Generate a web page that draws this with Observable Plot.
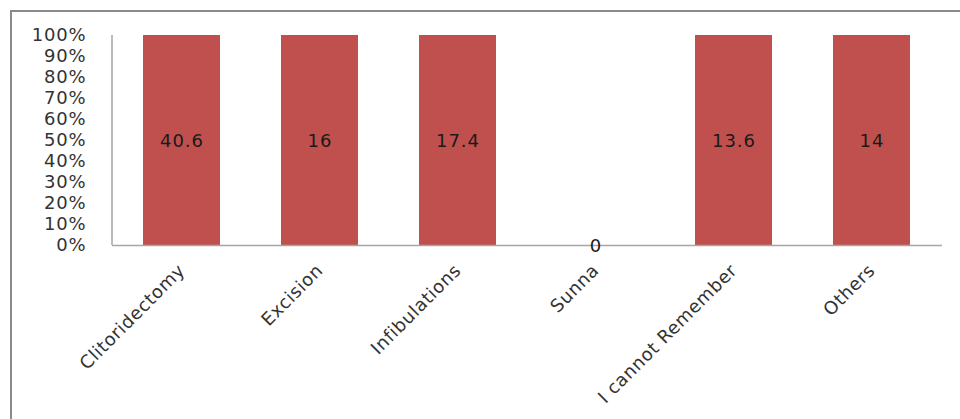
<!DOCTYPE html>
<html>
<head>
<meta charset="utf-8">
<script src="https://cdn.jsdelivr.net/npm/d3@7"></script>
<script src="https://cdn.jsdelivr.net/npm/@observablehq/plot@0.6"></script>
<style>
  html, body { margin: 0; padding: 0; background: #fff; overflow: hidden; }
  #wrap { position: relative; width: 960px; height: 419px; }
  #border { position: absolute; left: 10px; top: 10px; width: 960px; height: 420px; border: 2px solid #8a8a8a; box-sizing: border-box; }
  #chart { position: absolute; left: 0; top: 0; }
  g[aria-label="y-axis tick label"] text { letter-spacing: 0.8px; }
  g[aria-label="x-axis tick label"] text { letter-spacing: 0.6px; }
  g[aria-label="text"] text { letter-spacing: 1px; }
</style>
</head>
<body>
<div id="wrap"><div id="border"></div><div id="chart"></div></div>
<script>
const categories = ["Clitoridectomy", "Excision", "Infibulations", "Sunna", "I cannot Remember", "Others"];
const values = [40.6, 16, 17.4, 0, 13.6, 14];
const labels = ["40.6", "16", "17.4", "0", "13.6", "14"];

const data = categories.map((c, i) => ({cat: c, value: values[i], label: labels[i]}));

const font = "'DejaVu Sans', sans-serif";

const leftLine = (index, scales, values, dims) => {
  const line = document.createElementNS("http://www.w3.org/2000/svg", "line");
  line.setAttribute("x1", dims.marginLeft);
  line.setAttribute("x2", dims.marginLeft);
  line.setAttribute("y1", dims.marginTop);
  line.setAttribute("y2", dims.height - dims.marginBottom);
  line.setAttribute("stroke", "#a6a6a6");
  line.setAttribute("stroke-width", 1.5);
  return line;
};

const chart = Plot.plot({
  width: 960,
  height: 419,
  marginLeft: 112,
  marginRight: 18,
  marginTop: 35,
  marginBottom: 174,
  style: {fontFamily: font, background: "transparent", color: "#222"},
  x: {domain: categories, paddingInner: 0.44, paddingOuter: 0.22, label: null},
  y: {domain: [0, 1], label: null},
  marks: [
    Plot.barY(data, {x: "cat", y: "value", offset: "normalize", fill: "#C0504D"}),
    Plot.ruleY([0], {stroke: "#a6a6a6", strokeWidth: 1.5}),
    leftLine,
    Plot.axisY({ticks: d3.range(0, 1.0001, 0.1), tickFormat: d => Math.round(d * 100) + "%", tickSize: 0, tickPadding: 26, fontSize: 18, fill: "#333"}),
    Plot.axisX({tickSize: 0, tickRotate: -45, tickPadding: 22, fontSize: 18, fill: "#333", dx: 0}),
    Plot.text(data, {x: "cat", y: d => d.value > 0 ? 0.5 : 0, text: "label", fontSize: 18, fill: "#1a1a1a", dy: 1})
  ]
});
document.getElementById("chart").appendChild(chart);
</script>
</body>
</html>
